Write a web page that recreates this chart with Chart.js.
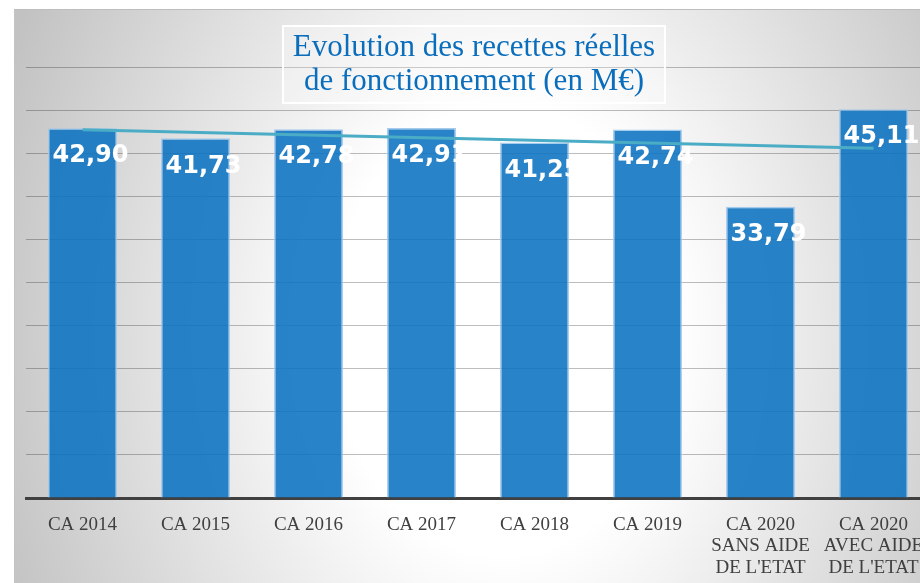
<!DOCTYPE html>
<html>
<head>
<meta charset="utf-8">
<script src="https://cdn.jsdelivr.net/npm/chart.js@4"></script>
<style>
html,body{margin:0;padding:0;width:920px;height:583px;overflow:hidden;background:#fff;}
#panel{position:absolute;left:14px;top:9px;width:920px;height:574px;border-top:1px solid #bdbdbd;border-left:1px solid #c4c4c4;
background:radial-gradient(ellipse 540px 700px at 490px 321px,#ffffff 0%,#ffffff 32%,#c2c2c2 100%);}
#wrap{position:absolute;left:0;top:0;width:940px;height:583px;}
#title{position:absolute;left:282px;top:25px;width:380px;height:73px;border:2px solid #ffffff;background:rgba(255,255,255,0.25);
font-family:"Liberation Serif",serif;font-size:31px;line-height:34px;color:#0a6ebd;text-align:center;padding-top:2px;}
</style>
</head>
<body>
<div id="panel"></div>
<div id="wrap"><canvas id="c" width="940" height="583"></canvas></div>
<div id="title">Evolution des recettes réelles<br>de fonctionnement (en M€)</div>
<script>
const categories = [
  "CA 2014","CA 2015","CA 2016","CA 2017","CA 2018","CA 2019",
  ["CA 2020","SANS AIDE","DE L'ETAT"],["CA 2020","AVEC AIDE","DE L'ETAT"]
];
const recettes = [42.90, 41.73, 42.78, 42.91, 41.25, 42.74, 33.79, 45.11];
const valueLabels = ["42,90","41,73","42,78","42,91","41,25","42,74","33,79","45,11"];
const trendValues = [42.73, null, null, null, null, null, null, 40.57];
const yMin = 0, yMax = 50, yStep = 5;

const labelPlugin = {
  id: 'valueLabels',
  afterDatasetsDraw(chart) {
    const ctx = chart.ctx;
    const meta = chart.getDatasetMeta(0);
    ctx.save();
    ctx.font = 'bold 24px "DejaVu Sans", Verdana, sans-serif';
    ctx.fillStyle = '#ffffff';
    ctx.textAlign = 'center';
    ctx.textBaseline = 'middle';
    meta.data.forEach((bar, i) => {
      ctx.fillText(valueLabels[i], bar.x + 8, bar.y + 28);
    });
    ctx.restore();
  }
};

new Chart(document.getElementById('c'), {
  data: {
    labels: categories,
    datasets: [
      {
        type: 'bar',
        data: recettes,
        backgroundColor: 'rgba(11,114,192,0.88)',
        borderColor: 'rgba(160,200,235,0.95)',
        borderWidth: 1.5,
        categoryPercentage: 1,
        barPercentage: 0.61,
        order: 2
      },
      {
        type: 'line',
        data: trendValues,
        spanGaps: true,
        borderColor: '#4bacc6',
        borderWidth: 3,
        pointRadius: 0,
        fill: false,
        order: 1
      }
    ]
  },
  options: {
    responsive: false,
    animation: false,
    layout: { padding: { left: 26, right: 10, top: 67, bottom: 0 } },
    plugins: { legend: { display: false }, tooltip: { enabled: false }, title: { display: false } },
    scales: {
      x: {
        grid: { display: false },
        border: { color: '#404040', width: 3 },
        ticks: {
          color: '#404040',
          font: { family: '"Liberation Serif", serif', size: 19, lineHeight: 1.13 },
          padding: 8,
          maxRotation: 0,
          autoSkip: false
        },
        afterFit(s) { s.height = 85; }
      },
      y: {
        min: yMin, max: yMax,
        ticks: { display: false, stepSize: yStep },
        grid: { color: 'rgba(0,0,0,0.26)', lineWidth: 1, drawTicks: false },
        border: { display: false },
        afterFit(s) { s.width = 0; }
      }
    }
  },
  plugins: [labelPlugin]
});
</script>
</body>
</html>
